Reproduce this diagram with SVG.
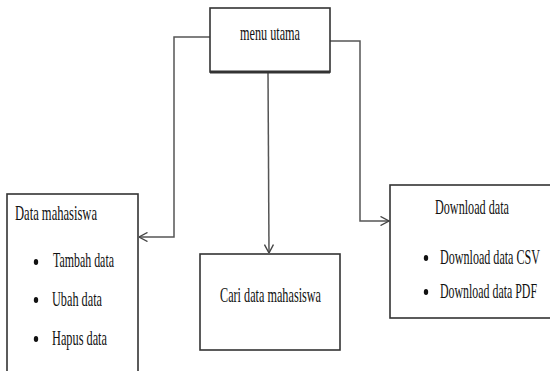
<svg xmlns="http://www.w3.org/2000/svg" width="550" height="371" viewBox="0 0 550 371">
<style>
.box{fill:#fff;stroke:#333;stroke-width:1.6}
.conn{fill:none;stroke:#555;stroke-width:1.5}
.t{font-family:"Liberation Serif","Times New Roman",serif;font-size:12.5px;fill:#111}
.b{fill:#111}
</style>
<defs>
<marker id="arr" viewBox="0 0 10 10" refX="9.5" refY="5" markerWidth="10" markerHeight="10" markerUnits="userSpaceOnUse" orient="auto">
<path d="M1,0.5 L9.5,5 L1,9.5" fill="none" stroke="#444" stroke-width="1.4"/>
</marker>
</defs>
<rect width="550" height="371" fill="#fff"/>
<g id="connectors">
<polyline class="conn" points="210,37 174,37 174,237 139,237" marker-end="url(#arr)"/>
<polyline class="conn" points="330,41 360,41 360,221 389,221" marker-end="url(#arr)"/>
<line class="conn" x1="268" y1="72" x2="269" y2="253" marker-end="url(#arr)"/>
</g>
<g id="menu-utama">
<rect class="box" x="210" y="8" width="120" height="64"/>
<line x1="210" y1="72" x2="330" y2="72" stroke="#333" stroke-width="3"/>
<text class="t" transform="translate(240,40) scale(1,1.65)" textLength="60" lengthAdjust="spacingAndGlyphs">menu utama</text>
</g>
<g id="data-mahasiswa">
<rect class="box" x="7" y="194" width="131" height="190"/>
<text class="t" transform="translate(15,220) scale(1,1.65)" textLength="82" lengthAdjust="spacingAndGlyphs">Data mahasiswa</text>
<ellipse class="b" cx="36" cy="262" rx="2.2" ry="3"/>
<text class="t" transform="translate(53,267) scale(1,1.65)" textLength="61" lengthAdjust="spacingAndGlyphs">Tambah data</text>
<ellipse class="b" cx="36" cy="300" rx="2.2" ry="3"/>
<text class="t" transform="translate(52,306) scale(1,1.65)" textLength="50" lengthAdjust="spacingAndGlyphs">Ubah data</text>
<ellipse class="b" cx="36" cy="339" rx="2.2" ry="3"/>
<text class="t" transform="translate(52,345) scale(1,1.65)" textLength="55" lengthAdjust="spacingAndGlyphs">Hapus data</text>
</g>
<g id="cari-data">
<rect class="box" x="200" y="254" width="140" height="96"/>
<text class="t" transform="translate(220,302) scale(1,1.65)" textLength="101" lengthAdjust="spacingAndGlyphs">Cari data mahasiswa</text>
</g>
<g id="download-data">
<rect class="box" x="390" y="185" width="170" height="133"/>
<text class="t" transform="translate(435,214) scale(1,1.65)" textLength="74" lengthAdjust="spacingAndGlyphs">Download data</text>
<ellipse class="b" cx="426" cy="258" rx="2.2" ry="3"/>
<text class="t" transform="translate(440,264) scale(1,1.65)" textLength="100" lengthAdjust="spacingAndGlyphs">Download data CSV</text>
<ellipse class="b" cx="426" cy="292" rx="2.2" ry="3"/>
<text class="t" transform="translate(440,298) scale(1,1.65)" textLength="97" lengthAdjust="spacingAndGlyphs">Download data PDF</text>
</g>
</svg>
